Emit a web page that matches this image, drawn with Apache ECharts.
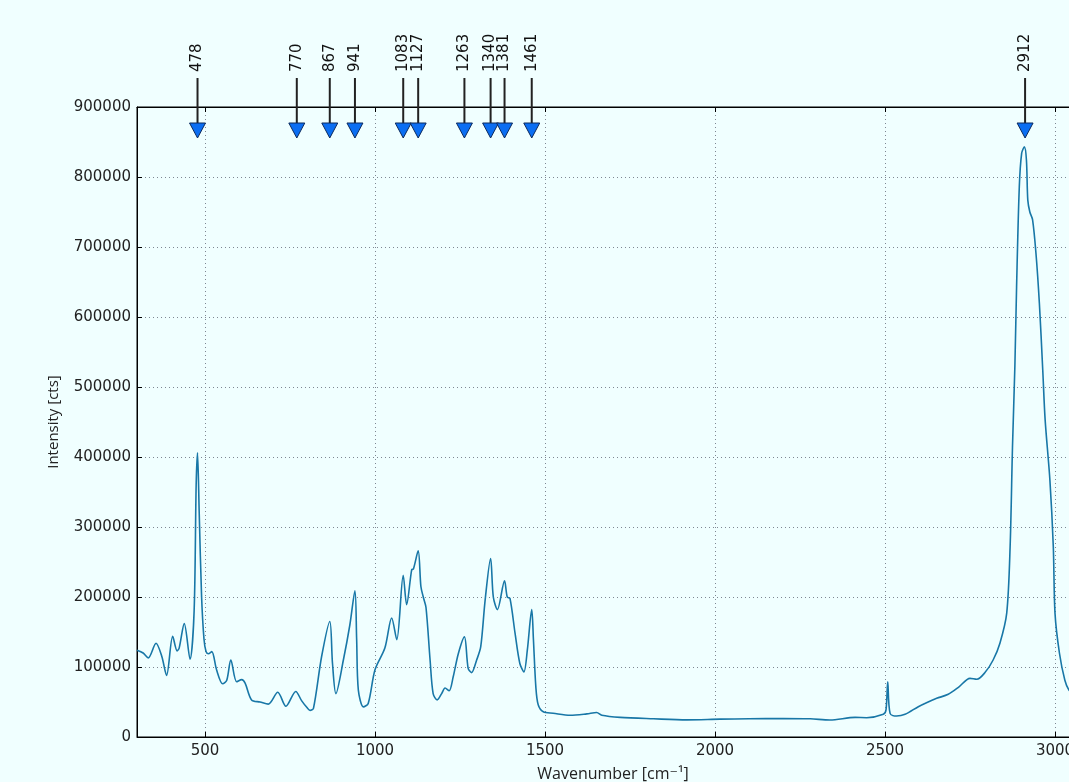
<!DOCTYPE html>
<html>
<head>
<meta charset="utf-8">
<title>Raman spectrum</title>
<script src="https://cdn.jsdelivr.net/npm/echarts@6/dist/echarts.min.js"></script>
<style>
  html, body { margin: 0; padding: 0; background: #f0ffff; overflow: hidden; }
  /* the plot runs a little past the right edge of the window, as in the original */
  #chart { width: 1089px; height: 782px; }
</style>
</head>
<body>
<div id="chart"></div>
<script>
// spectrum
const wavenumber = [
  300, 318, 333, 356, 373, 387, 405, 418, 424, 439, 456, 468, 474, 478, 483, 490, 497, 503,
  510, 520, 534, 552, 564, 576, 593, 608, 618, 637, 662, 686, 714, 738, 767, 784, 800, 809, 819,
  843, 867, 875, 885, 907, 926, 941, 946, 951, 966, 980, 1000, 1029, 1049, 1064, 1083, 1093,
  1108, 1113, 1127, 1135, 1142, 1150, 1162, 1171, 1183, 1196, 1206, 1218, 1230, 1245, 1263,
  1274, 1284, 1299, 1311, 1324, 1340, 1348, 1360, 1381, 1389, 1397, 1412, 1426, 1438, 1448,
  1461, 1466, 1473, 1480, 1495, 1524, 1574, 1623, 1652, 1667, 1721, 1819, 1917, 2015, 2100,
  2200, 2280, 2338, 2412, 2446, 2495, 2503, 2508, 2515, 2534, 2559, 2598, 2622, 2652, 2686,
  2716, 2750, 2770, 2794, 2818, 2838, 2858, 2868, 2875, 2882, 2887, 2895, 2902, 2910, 2916,
  2920, 2926, 2934, 2944, 2954, 2964, 2971, 2985, 2995, 3000, 3013, 3029, 3041, 3060, 3080, 3100
];
const intensity = [
  124000, 120000, 113000, 134000, 115000, 88000, 144000, 123000, 127000, 162000, 111000, 180000, 360000, 406000, 320000, 200000, 140000, 122000,
  119000, 122000, 96000, 76000, 81000, 110000, 79000, 82000, 77000, 53000, 50000, 47000, 64000, 44000, 65000, 52000, 42000, 38000, 41000,
  115000, 165000, 105000, 62000, 110000, 160000, 209000, 140000, 67000, 43000, 48000, 96000, 127000, 170000, 139000, 231000, 189000,
  239000, 240000, 266000, 215000, 200000, 185000, 110000, 62000, 53000, 62000, 70000, 66000, 86000, 119000, 143000,
  98000, 92000, 110000, 129000, 196000, 255000, 200000, 182000, 223000, 200000, 198000, 148000, 105000, 93000, 124000,
  182000, 139000, 72000, 46000, 36000, 34000, 31000, 33000, 35000, 31000, 28000, 26000, 24500, 25500, 26000,
  26500, 26000, 24300, 28000, 27600, 32400, 38600, 79000, 33800, 30000, 32400, 43300, 49000, 55200, 61000,
  71000, 83800, 82400, 92000, 110000, 134000, 177000, 272000, 415000, 530000, 643000, 786000, 834000, 843000, 824000,
  767000, 750000, 739000, 691000, 620000, 524000, 453000, 367000, 272000, 177000, 120000, 81000, 67000, 58000, 54000, 52000
];
// labelled peaks (arrows on top)
const peakPositions = [478, 770, 867, 941, 1083, 1127, 1263, 1340, 1381, 1461, 2912];

const xMin = 300, xMax = 3100;
const yMin = 0, yMax = 900000, yStep = 100000;

const chart = echarts.init(document.getElementById('chart'));

const gridLine = { show: true, lineStyle: { color: '#7f8793', type: [1, 3], width: 1 } };
const tickFont = { fontFamily: 'DejaVu Sans', fontSize: 15, color: '#222' };

chart.setOption({
  backgroundColor: '#f0ffff',
  animation: false,
  grid: {
    left: 137, top: 107, right: 0, bottom: 45,
    outerBoundsMode: 'none',
    show: true, borderColor: '#000', borderWidth: 1, backgroundColor: 'transparent'
  },
  xAxis: [{
    type: 'value',
    min: xMin, max: xMax,
    splitNumber: 5,
    name: 'Wavenumber [cm⁻¹]',
    nameLocation: 'middle',
    nameGap: 29,
    nameTextStyle: { fontFamily: 'Open Sans, DejaVu Sans', fontSize: 16, color: '#222' },
    axisLine: { show: true, lineStyle: { color: '#000', width: 1 } },
    axisTick: { show: true, inside: true, length: 5, lineStyle: { color: '#000' } },
    axisLabel: Object.assign({ margin: 7, showMinLabel: false, showMaxLabel: false, formatter: v => String(v) }, tickFont),
    splitLine: gridLine
  }, {
    type: 'value',
    position: 'top',
    min: xMin, max: xMax,
    splitNumber: 5,
    axisLine: { show: true, lineStyle: { color: '#000', width: 1 } },
    axisTick: { show: true, inside: true, length: 5, lineStyle: { color: '#000' } },
    axisLabel: { show: false },
    splitLine: { show: false }
  }],
  yAxis: {
    type: 'value',
    min: yMin, max: yMax, interval: yStep,
    name: 'Intensity [cts]',
    nameLocation: 'middle',
    nameGap: 76,
    nameTextStyle: { fontFamily: 'Open Sans', fontSize: 15, color: '#222' },
    axisLine: { show: true, lineStyle: { color: '#000', width: 1 } },
    axisTick: { show: true, inside: true, length: 5, lineStyle: { color: '#000' } },
    axisLabel: Object.assign({ margin: 6, formatter: v => String(v) }, tickFont),
    splitLine: gridLine
  },
  series: [{
    type: 'line',
    name: 'spectrum',
    data: wavenumber.map((w, i) => [w, intensity[i]]),
    showSymbol: false,
    smooth: 0.3,
    lineStyle: { color: '#1877a7', width: 1.6 },
    z: 3
  }, {
    type: 'custom',
    name: 'peaks',
    clip: false,
    z: 5,
    data: peakPositions.map(p => [p, yMax]),
    renderItem: function (params, api) {
      const pt = api.coord([api.value(0), api.value(1)]);
      const x = pt[0], y = pt[1];
      return {
        type: 'group',
        children: [{
          type: 'line',
          shape: { x1: x, y1: y - 29, x2: x, y2: y + 20 },
          style: { stroke: '#222', lineWidth: 2 }
        }, {
          type: 'polygon',
          shape: { points: [[x - 8, y + 16], [x + 8, y + 16], [x, y + 31]] },
          style: { fill: '#0b6ef2', stroke: '#0d2a5c', lineWidth: 1 }
        }, {
          type: 'text',
          x: x, y: y - 35,
          rotation: Math.PI / 2,
          style: {
            text: String(api.value(0)),
            align: 'left', verticalAlign: 'middle',
            font: '15px "DejaVu Sans"', fill: '#111'
          }
        }]
      };
    }
  }]
});
</script>
</body>
</html>
